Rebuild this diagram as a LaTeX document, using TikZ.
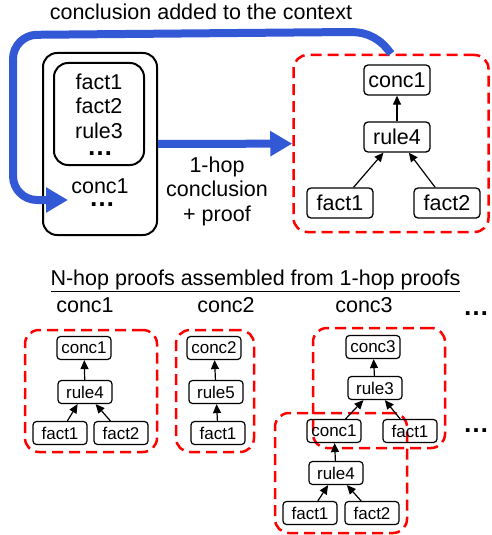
\documentclass[tikz,border=0pt]{standalone}
\usepackage{fontspec}
\setmainfont{Liberation Sans}
\usetikzlibrary{arrows.meta}
\definecolor{hopblue}{RGB}{50,88,214}

\begin{document}
\begin{tikzpicture}[x=1pt, y=-1pt,
   bigtext/.style ={font=\fontsize{21.5}{24.5}\selectfont},
   smalltext/.style ={font=\fontsize{17}{20}\selectfont},
   moredots/.style ={anchor=base, inner sep=0pt, text height=4pt, text depth=0pt, font=\bfseries\fontsize{26}{26}\selectfont},
   ctxbox/.style ={draw, line width=2pt, rounded corners=14pt, inner sep=0pt},
   proofbox/.style ={draw=red, line width=2.5pt, dash pattern=on 11pt off 6pt, rounded corners=14pt, inner sep=0pt},
   stmt/.style ={draw, line width=1.3pt, rounded corners=4pt, inner sep=1pt, minimum width=66pt, minimum height=30pt, bigtext},
   smallstmt/.style ={draw, line width=1.2pt, rounded corners=3.5pt, inner sep=1pt, minimum width=54pt, minimum height=23pt, smalltext},
   infer/.style ={line width=1.2pt, -{Triangle[length=9pt,width=8pt]}},
   hoparrow/.style ={hopblue, line width=8pt, -{Triangle[length=22pt,width=24pt]}}]
   \useasboundingbox (0,0) rectangle (491,535);

   % context and 1-hop proof
   \node[bigtext, anchor=base] (title) at (201,20) {conclusion added to the context};
   \node[ctxbox, minimum width=114pt, minimum height=182pt] (ctx) at (100,144) {};
   \node[ctxbox, minimum width=90pt, minimum height=102pt] (facts) at (99,114) {};
   \node[bigtext, align=center] (factlist) at (99,106) {fact1\\fact2\\rule3};
   \node[moredots] (factdots) at (100,155) {…};
   \node[bigtext, anchor=base] (ctxconc) at (100,193) {conc1};
   \node[moredots] (ctxdots) at (102,206) {…};
   \coordinate (ctxin) at (68,200);
   \node[bigtext, align=center] (hoplabel) at (217,191) {1-hop\\conclusion\\+ proof};

   \node[proofbox, minimum width=195pt, minimum height=177pt] (proof) at (391,143.5) {};
   \node[stmt] (conc1) at (397,80) {conc1};
   \node[stmt] (rule4) at (397,137) {rule4};
   \node[stmt] (fact1) at (340,203) {fact1};
   \node[stmt] (fact2) at (447,203) {fact2};
   \draw[infer] (rule4) to (conc1);
   \draw[infer] (fact1) to (rule4);
   \draw[infer] (fact2) to (rule4);

   \draw[hoparrow] (ctx) -- (proof);
   \draw[hoparrow] (proof.north) to[out=125,in=0] (350,32)
      [rounded corners=24pt] -- (13,35) -- (13,200) -- (ctxin);

   % N-hop proofs
   \node[bigtext, anchor=base] (nhop) at (255.5,285) {\underline{N-hop proofs assembled from 1-hop proofs}};
   \node[bigtext, anchor=base] (labA) at (85,312.7) {conc1};
   \node[bigtext, anchor=base] (labB) at (226,312.7) {conc2};
   \node[bigtext, anchor=base] (labC) at (364,312.7) {conc3};
   \node[moredots] (moreA) at (476,315) {…};
   \node[moredots] (moreB) at (476,432) {…};

   \node[proofbox, minimum width=132pt, minimum height=122pt] (boxA) at (91,391) {};
   \node[proofbox, minimum width=78pt, minimum height=122pt] (boxB) at (215,391) {};
   \node[proofbox, minimum width=132pt, minimum height=120pt] (boxC) at (379,388) {};
   \node[proofbox, minimum width=132pt, minimum height=120pt] (boxD) at (341,473) {};

   \node[smallstmt] (aconc1) at (84,348) {conc1};
   \node[smallstmt] (arule4) at (85,392) {rule4};
   \node[smallstmt] (afact1) at (60,433) {fact1};
   \node[smallstmt] (afact2) at (121,433) {fact2};
   \draw[infer] (arule4) to (aconc1);
   \draw[infer] (afact1) to (arule4);
   \draw[infer] (afact2) to (arule4);

   \node[smallstmt] (bconc2) at (214,348) {conc2};
   \node[smallstmt] (brule5) at (216,392) {rule5};
   \node[smallstmt] (bfact1) at (218,433) {fact1};
   \draw[infer] (brule5) to (bconc2);
   \draw[infer] (bfact1) to (brule5);

   \node[smallstmt] (cconc3) at (373,347) {conc3};
   \node[smallstmt] (crule3) at (375,388) {rule3};
   \node[smallstmt] (cconc1) at (334,431) {conc1};
   \node[smallstmt] (cfact1) at (410,431) {fact1};
   \node[smallstmt] (drule4) at (336,473) {rule4};
   \node[smallstmt] (dfact1) at (310,513) {fact1};
   \node[smallstmt] (dfact2) at (372,513) {fact2};
   \draw[infer] (crule3) to (cconc3);
   \draw[infer] (cconc1) to (crule3);
   \draw[infer] (cfact1) to (crule3);
   \draw[infer] (drule4) to (cconc1);
   \draw[infer] (dfact1) to (drule4);
   \draw[infer] (dfact2) to (drule4);
\end{tikzpicture}
\end{document}
